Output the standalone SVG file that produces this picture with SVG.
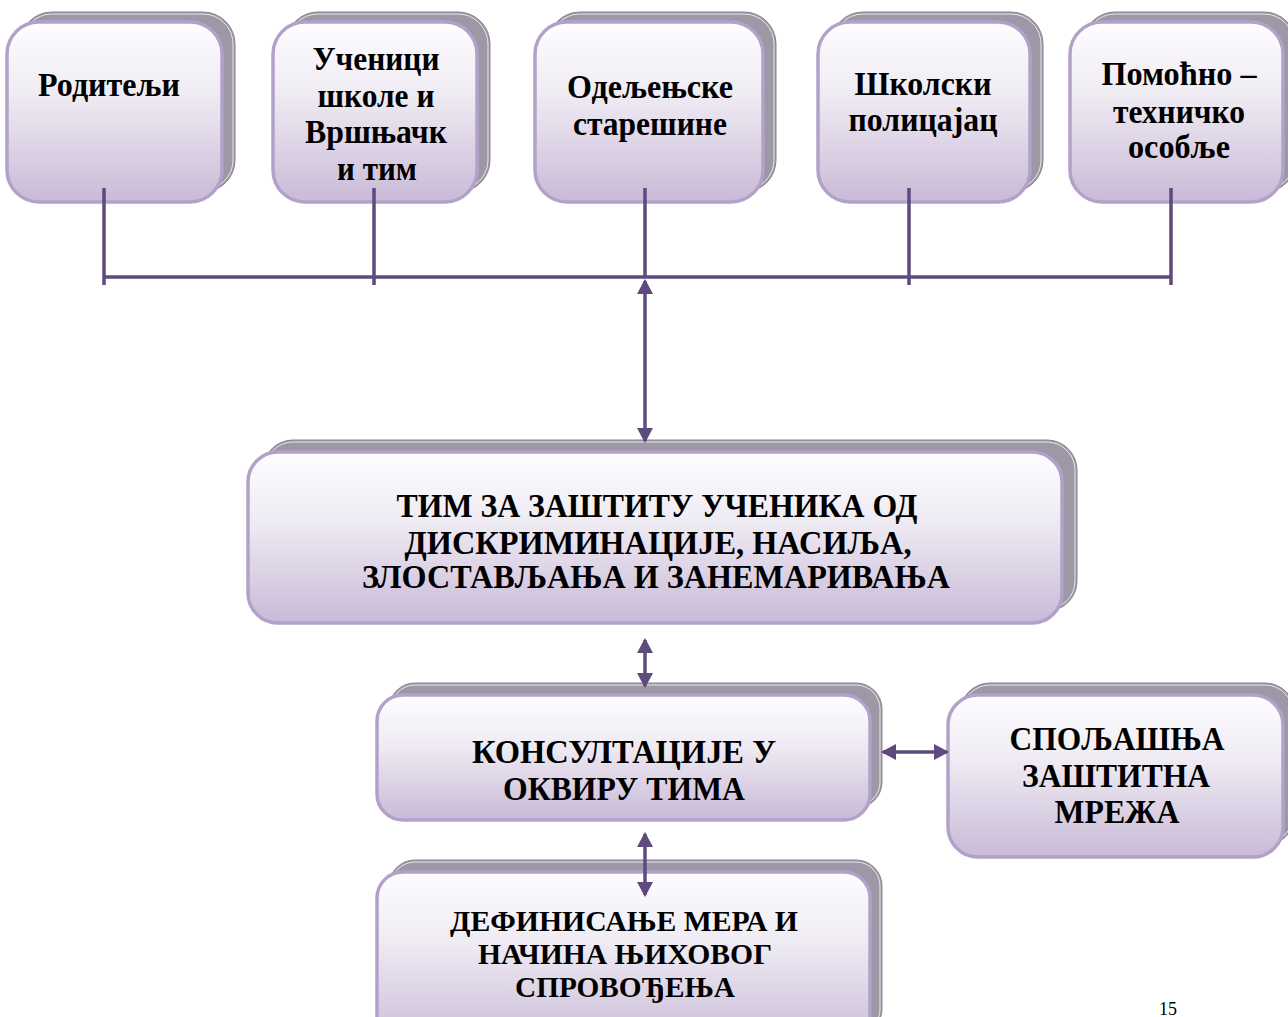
<svg xmlns="http://www.w3.org/2000/svg" width="1288" height="1017" viewBox="0 0 1288 1017">
<defs>
<linearGradient id="g" x1="0" y1="0" x2="0" y2="1">
<stop offset="0" stop-color="#fefdff"/>
<stop offset="0.4" stop-color="#efebf3"/>
<stop offset="1" stop-color="#c9bad7"/>
</linearGradient>
<marker id="ah" viewBox="0 0 15 16" refX="13" refY="8" markerWidth="15" markerHeight="16" markerUnits="userSpaceOnUse" orient="auto-start-reverse">
<path d="M0,0 L15,8 L0,16 z" fill="#5e4a7e"/>
</marker>
<style>
.sh{fill:#9e97a5;stroke:#8a8391;stroke-width:1}
.shl{fill:none;stroke:#ffffff;stroke-width:1;opacity:.75}
.fr{fill:url(#g);stroke:#b2a2c9;stroke-width:3.5}
.t{font-family:"Liberation Serif","Times New Roman",serif;font-weight:bold;fill:#000;text-anchor:middle}
.t32{font-size:33px}
.t30{font-size:30px}
.c{fill:none;stroke:#5e4a7e;stroke-width:3.5}
.a{fill:none;stroke:#5e4a7e;stroke-width:3.5;marker-start:url(#ah);marker-end:url(#ah)}
</style>
</defs>
<rect width="1288" height="1017" fill="#ffffff"/>

<g id="n1">
<rect class="sh" x="20" y="12" width="215" height="180" rx="32"/>
<rect class="shl" x="22" y="14" width="211" height="176" rx="30"/>
<rect class="fr" x="7" y="22" width="215" height="180" rx="32"/>
<text class="t t32" x="109" y="96" textLength="142" lengthAdjust="spacingAndGlyphs">Родитељи</text>
</g>
<g id="n2">
<rect class="sh" x="286" y="12" width="204" height="180" rx="32"/>
<rect class="shl" x="288" y="14" width="200" height="176" rx="30"/>
<rect class="fr" x="273" y="22" width="204" height="180" rx="32"/>
<text class="t t32" x="376" y="70" textLength="127" lengthAdjust="spacingAndGlyphs">Ученици</text>
<text class="t t32" x="376" y="107" textLength="117" lengthAdjust="spacingAndGlyphs">школе и</text>
<text class="t t32" x="376" y="143" textLength="142" lengthAdjust="spacingAndGlyphs">Вршњачк</text>
<text class="t t32" x="377" y="180" textLength="80" lengthAdjust="spacingAndGlyphs">и тим</text>
</g>
<g id="n3">
<rect class="sh" x="548" y="12" width="228" height="180" rx="32"/>
<rect class="shl" x="550" y="14" width="224" height="176" rx="30"/>
<rect class="fr" x="535" y="22" width="228" height="180" rx="32"/>
<text class="t t32" x="650" y="98" textLength="166" lengthAdjust="spacingAndGlyphs">Одељењске</text>
<text class="t t32" x="650" y="135" textLength="154" lengthAdjust="spacingAndGlyphs">старешине</text>
</g>
<g id="n4">
<rect class="sh" x="831" y="12" width="212" height="180" rx="32"/>
<rect class="shl" x="833" y="14" width="208" height="176" rx="30"/>
<rect class="fr" x="818" y="22" width="212" height="180" rx="32"/>
<text class="t t32" x="923" y="95" textLength="137" lengthAdjust="spacingAndGlyphs">Школски</text>
<text class="t t32" x="923" y="131" textLength="149" lengthAdjust="spacingAndGlyphs">полицајац</text>
</g>
<g id="n5">
<rect class="sh" x="1083" y="12" width="213" height="180" rx="32"/>
<rect class="shl" x="1085" y="14" width="209" height="176" rx="30"/>
<rect class="fr" x="1070" y="22" width="213" height="180" rx="32"/>
<text class="t t32" x="1179" y="85" textLength="155" lengthAdjust="spacingAndGlyphs">Помоћно –</text>
<text class="t t32" x="1179" y="123" textLength="132" lengthAdjust="spacingAndGlyphs">техничко</text>
<text class="t t32" x="1179" y="158" textLength="102" lengthAdjust="spacingAndGlyphs">особље</text>
</g>

<g id="team">
<rect class="sh" x="263" y="440" width="814" height="171" rx="30"/>
<rect class="shl" x="265" y="442" width="810" height="167" rx="28"/>
<rect class="fr" x="248" y="452" width="814" height="171" rx="30"/>
<text class="t t32" x="657" y="517" textLength="521" lengthAdjust="spacingAndGlyphs">ТИМ ЗА ЗАШТИТУ УЧЕНИКА ОД</text>
<text class="t t32" x="658" y="554" textLength="507" lengthAdjust="spacingAndGlyphs">ДИСКРИМИНАЦИЈЕ, НАСИЉА,</text>
<text class="t t32" x="656" y="588" textLength="588" lengthAdjust="spacingAndGlyphs">ЗЛОСТАВЉАЊА И ЗАНЕМАРИВАЊА</text>
</g>

<g id="consult">
<rect class="sh" x="389" y="683" width="493" height="125" rx="26"/>
<rect class="shl" x="391" y="685" width="489" height="121" rx="24"/>
<rect class="fr" x="377" y="695" width="493" height="125" rx="26"/>
<text class="t t32" x="624" y="763" textLength="304" lengthAdjust="spacingAndGlyphs">КОНСУЛТАЦИЈЕ У</text>
<text class="t t32" x="624" y="800" textLength="242" lengthAdjust="spacingAndGlyphs">ОКВИРУ ТИМА</text>
</g>

<g id="external">
<rect class="sh" x="960" y="683" width="335" height="162" rx="30"/>
<rect class="shl" x="962" y="685" width="331" height="158" rx="28"/>
<rect class="fr" x="948" y="695" width="335" height="162" rx="30"/>
<text class="t t32" x="1117" y="750" textLength="215" lengthAdjust="spacingAndGlyphs">СПОЉАШЊА</text>
<text class="t t32" x="1116" y="787" textLength="188" lengthAdjust="spacingAndGlyphs">ЗАШТИТНА</text>
<text class="t t32" x="1117" y="823" textLength="125" lengthAdjust="spacingAndGlyphs">МРЕЖА</text>
</g>

<g id="measures">
<rect class="sh" x="389" y="860" width="493" height="175" rx="26"/>
<rect class="shl" x="391" y="862" width="489" height="171" rx="24"/>
<rect class="fr" x="377" y="872" width="493" height="175" rx="26"/>
<text class="t t30" x="624" y="931" textLength="348" lengthAdjust="spacingAndGlyphs">ДЕФИНИСАЊЕ МЕРА И</text>
<text class="t t30" x="625" y="964" textLength="294" lengthAdjust="spacingAndGlyphs">НАЧИНА ЊИХОВОГ</text>
<text class="t t30" x="625" y="997" textLength="220" lengthAdjust="spacingAndGlyphs">СПРОВОЂЕЊА</text>
</g>

<g id="connectors">
<path class="c" d="M104,188 V285 M374,188 V285 M909,188 V285 M1171,188 V285 M645,188 V277 M104,277 H1171"/>
<line class="a" x1="645" y1="281" x2="645" y2="441"/>
<line class="a" x1="645" y1="640" x2="645" y2="686"/>
<line class="a" x1="645" y1="834" x2="645" y2="895"/>
<line class="a" x1="883" y1="752" x2="947" y2="752"/>
</g>

<text x="1159" y="1015" style="font-family:'Liberation Serif','Times New Roman',serif;font-size:18px;fill:#000">15</text>
</svg>
